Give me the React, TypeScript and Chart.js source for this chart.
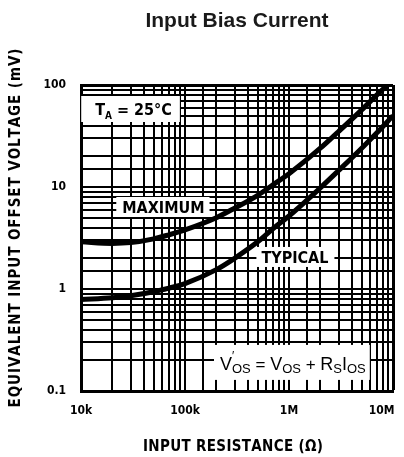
import { useEffect, useRef } from 'react';
import { Chart, registerables } from 'chart.js';

Chart.register(...registerables);

// input resistance (ohms)
const resistance = [1e4, 2e4, 3e4, 5e4, 7e4, 1e5, 2e5, 3e5, 5e5, 7e5, 1e6, 2e6, 3e6, 5e6, 7e6, 1e7];
// equivalent input offset voltage (mV)
const maximumVos = [2.9, 2.8, 2.85, 3.1, 3.4, 3.8, 5.0, 6.2, 8.3, 10.5, 13.5, 24, 35, 57, 80, 112];
const typicalVos = [0.79, 0.82, 0.86, 0.94, 1.02, 1.13, 1.55, 2.0, 2.9, 3.9, 5.2, 9.8, 14.5, 24, 34, 50];

const xTickValues = [1e4, 1e5, 1e6, 1e7];
const xTickLabels = ['10k', '100k', '1M', '10M'];
const yTickValues = [0.1, 1, 10, 100];
const yTickLabels = ['0.1', '1', '10', '100'];

const COND = '"DejaVu Sans Condensed", "Liberation Sans Narrow", "Arial Narrow", "Liberation Sans", sans-serif';
const PLAIN = '"Liberation Sans", Arial, sans-serif';

type Run = { t: string; s: number; dy?: number; still?: boolean };
type Note = { x: number; y: number; font: string; runs: Run[]; pad: number[]; cap: number };

// texts inside the plot; x,y = centre of text on its baseline (data units)
const notes: Note[] = [
  { x: 3.2e4, y: 50.8, font: COND, cap: 12, pad: [14, 7, 8, 7],
    runs: [{ t: 'T', s: 16 }, { t: 'A', s: 10, dy: 4 }, { t: ' = 25°C', s: 16 }] },
  { x: 6.2e4, y: 5.56, font: COND, cap: 12, pad: [6, 4, 5, 4], runs: [{ t: 'MAXIMUM', s: 16 }] },
  { x: 1.14e6, y: 1.8, font: COND, cap: 12, pad: [5, 4, 6, 4], runs: [{ t: 'TYPICAL', s: 16 }] },
  { x: 1.09e6, y: 0.161, font: PLAIN, cap: 14, pad: [6, 11, 4, 10],
    runs: [
      { t: 'V', s: 18 }, { t: '′', s: 12, dy: -10, still: true }, { t: 'OS', s: 13, dy: 3 },
      { t: ' = ', s: 17 }, { t: 'V', s: 18 }, { t: 'OS', s: 13, dy: 3 },
      { t: ' + ', s: 17 }, { t: 'R', s: 18 }, { t: 'S', s: 13, dy: 3 },
      { t: 'I', s: 18 }, { t: 'OS', s: 13, dy: 3 },
    ] },
];

const pick = (v: number, vals: number[], labels: string[]) => {
  const i = vals.findIndex(t => Math.abs(t - v) / t < 1e-6);
  return i >= 0 ? labels[i] : '';
};

// draw text letter by letter so it fills a given length
const spaced = (ctx: CanvasRenderingContext2D, text: string, cx: number, cy: number, len: number) => {
  const ws = [...text].map(c => ctx.measureText(c).width);
  const sum = ws.reduce((a, b) => a + b, 0);
  const gap = (len - sum) / (text.length - 1);
  let x = cx - len / 2;
  ctx.textAlign = 'left';
  [...text].forEach((c, i) => {
    ctx.fillText(c, x, cy);
    x += ws[i] + gap;
  });
};

const textPlugin = {
  id: 'texts',
  beforeDatasetsDraw(chart: any) {
    const { ctx, scales: { x, y } } = chart;
    ctx.save();
    ctx.textBaseline = 'alphabetic';
    notes.forEach(n => {
      let w = 0;
      n.runs.forEach(r => {
        ctx.font = `${n.font === COND ? 'bold' : 'normal'} ${r.s}px ${n.font}`;
        if (!r.still) w += ctx.measureText(r.t).width;
      });
      const cx = x.getPixelForValue(n.x);
      const base = y.getPixelForValue(n.y);
      const left = cx - w / 2;
      ctx.fillStyle = '#fff';
      ctx.fillRect(left - n.pad[0], base - n.cap - n.pad[1], w + n.pad[0] + n.pad[2], n.cap + n.pad[1] + n.pad[3]);
      ctx.fillStyle = '#000';
      ctx.textAlign = 'left';
      let px = left;
      n.runs.forEach(r => {
        ctx.font = `${n.font === COND ? 'bold' : 'normal'} ${r.s}px ${n.font}`;
        ctx.fillText(r.t, px, base + (r.dy || 0));
        if (!r.still) px += ctx.measureText(r.t).width;
      });
    });
    ctx.restore();
  },
  afterDraw(chart: any) {
    const { ctx } = chart;
    ctx.save();
    ctx.fillStyle = '#000';
    ctx.textBaseline = 'middle';
    ctx.font = `bold 15px ${COND}`;
    spaced(ctx, 'INPUT RESISTANCE (Ω)', 233, 447, 180);
    ctx.translate(16, 228);
    ctx.rotate(-Math.PI / 2);
    ctx.font = `bold 15px ${COND}`;
    spaced(ctx, 'EQUIVALENT INPUT OFFSET VOLTAGE (mV)', 0, 0, 359);
    ctx.restore();
  },
};

export default function App() {
  const canvasRef = useRef<HTMLCanvasElement>(null);

  useEffect(() => {
    if (!canvasRef.current) return;
    const chart = new Chart(canvasRef.current, {
      type: 'line',
      data: {
        datasets: [
          {
            label: 'MAXIMUM',
            data: resistance.map((r, i) => ({ x: r, y: maximumVos[i] })),
            borderColor: '#000',
            borderWidth: 5,
            pointRadius: 0,
            cubicInterpolationMode: 'monotone',
            clip: 0,
          },
          {
            label: 'TYPICAL',
            data: resistance.map((r, i) => ({ x: r, y: typicalVos[i] })),
            borderColor: '#000',
            borderWidth: 5,
            pointRadius: 0,
            cubicInterpolationMode: 'monotone',
            clip: 0,
          },
        ],
      },
      options: {
        responsive: false,
        animation: false,
        layout: { padding: { left: 0, right: 11, top: 0, bottom: 0 } },
        plugins: {
          legend: { display: false },
          tooltip: { enabled: false },
          title: {
            display: true,
            fullSize: false,
            text: 'Input Bias Current',
            color: '#1a1a1a',
            font: { family: PLAIN, size: 21, weight: 'bold' },
            padding: { top: 9, bottom: 50.8 },
          },
        },
        scales: {
          x: {
            type: 'logarithmic',
            min: 1e4,
            max: 1e7,
            afterFit: (s: any) => { s.height = 66; s.paddingLeft = 0; s.paddingRight = 0; },
            grid: {
              color: '#000',
              lineWidth: (c: any) => (c.tick && c.tick.value >= 1e7 * 0.999 ? 3 : 2),
              drawTicks: false,
            },
            border: { display: true, color: '#000', width: 3 },
            ticks: {
              autoSkip: false,
              maxRotation: 0,
              padding: 13,
              color: '#000',
              font: { family: COND, size: 12, weight: 'bold' },
              callback: (v: any) => {
                const l = pick(Number(v), xTickValues, xTickLabels);
                return Number(v) >= 1e7 * 0.999 ? l + '\u2007\u2007\u2007' : l;
              },
            },
          },
          y: {
            type: 'logarithmic',
            min: 0.1,
            max: 100,
            afterFit: (s: any) => { s.width = 81; s.paddingTop = 0; s.paddingBottom = 0; },
            grid: {
              color: '#000',
              lineWidth: (c: any) => (c.tick && c.tick.value >= 99.9 ? 3 : 2),
              drawTicks: false,
            },
            border: { display: true, color: '#000', width: 3 },
            ticks: {
              autoSkip: false,
              padding: 15,
              color: '#000',
              font: { family: COND, size: 12, weight: 'bold' },
              callback: (v: any) => pick(Number(v), yTickValues, yTickLabels),
            },
          },
        },
      },
      plugins: [textPlugin],
    } as any);
    return () => chart.destroy();
  }, []);

  return (
    <div style={{ position: 'fixed', left: 0, top: 0, width: 404, height: 457, background: '#fff' }}>
      <canvas ref={canvasRef} width={404} height={457} style={{ width: 404, height: 457 }} />
    </div>
  );
}
